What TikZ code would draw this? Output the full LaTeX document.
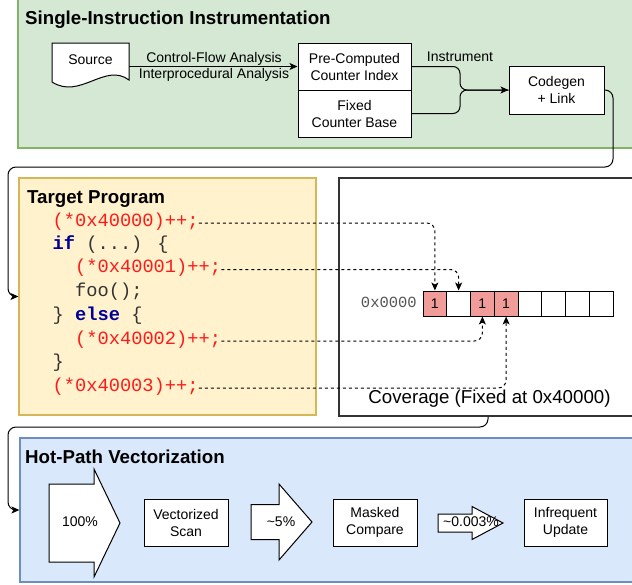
\documentclass[tikz,border=0pt]{standalone}
\usepackage{fontspec}
\setmainfont{Liberation Sans}
\newfontfamily\codefont{Liberation Mono}
\usetikzlibrary{arrows.meta}

\definecolor{grnfill}{HTML}{D5E8D4}
\definecolor{grnline}{HTML}{82B366}
\definecolor{ylwfill}{HTML}{FFF2CC}
\definecolor{ylwline}{HTML}{D6B656}
\definecolor{blufill}{HTML}{DAE8FC}
\definecolor{bluline}{HTML}{6C8EBF}
\definecolor{hitfill}{HTML}{F19C99}
\definecolor{codered}{HTML}{FF1A1A}
\definecolor{kwblue}{HTML}{000099}
\definecolor{codegray}{HTML}{333333}
\definecolor{addrgray}{HTML}{555555}
\definecolor{panelline}{HTML}{333333}

\newcommand\txtsz{\fontsize{14}{17}\selectfont}

\tikzset{
  panel/.style={draw, line width=1.2pt, inner sep=0pt},
  box/.style={draw, fill=white, line width=1pt, inner sep=0pt, align=center, font=\txtsz},
  lbl/.style={inner sep=0pt, font=\txtsz, text height=0.72em, text depth=0pt},
  ptitle/.style={anchor=base west, inner sep=0pt, font=\fontsize{18.7}{22}\selectfont\bfseries},
  codeln/.style={anchor=west, inner sep=0pt, text=codegray,
    font=\fontsize{18.7}{22}\selectfont\codefont, text height=0.78em, text depth=0.16em},
  cell/.style={draw, line width=1pt, minimum width=23.75pt, minimum height=25pt, inner sep=0pt, font=\txtsz},
  hit/.style={cell, fill=hitfill},
  conn/.style={line width=1pt, rounded corners=8pt, -{Stealth[length=8pt,width=7pt,inset=2pt]}},
  dconn/.style={conn, dash pattern=on 3pt off 3pt},
  fatarrow/.style={draw, fill=white, line width=1pt, line join=miter},
}

\begin{document}
\begin{tikzpicture}[x=1pt, y=-1pt]
\useasboundingbox (0,0) rectangle (632,584);
\clip (0,0) rectangle (632,584);
\fill[white] (0,0) rectangle (632,584);

% ---------- panels ----------
\node[panel, draw=grnline, fill=grnfill, minimum width=619pt, minimum height=150pt] (si) at (327.5,73) {};
\node[panel, draw=ylwline, fill=ylwfill, minimum width=297pt, minimum height=237pt] (tp) at (167.5,296.5) {};
\node[panel, draw=panelline, fill=white, minimum width=298pt, minimum height=238pt] (cov) at (488,297) {};
\node[panel, draw=bluline, fill=blufill, minimum width=617pt, minimum height=144pt] (hp) at (328.5,510) {};

\node[ptitle] (sititle) at (25,24.7) {Single-Instruction Instrumentation};
\node[ptitle] (tptitle) at (27,203.7) {Target Program};
\node[ptitle] (hptitle) at (25,463.7) {Hot-Path Vectorization};

% ---------- single-instruction instrumentation ----------
\draw[fill=white, line width=1pt] (52,43) -- (129,43) -- (129,80)
  .. controls (105,62) and (80,100) .. (52,82) -- cycle;
\node[minimum width=77pt, minimum height=47pt, inner sep=0pt] (src) at (90.5,66.5) {};
\node[lbl] (srctext) at (90.5,61) {Source};

\node[box, minimum width=113pt, minimum height=47pt] (pc) at (354.5,66.5) {Pre-Computed\\Counter Index};
\node[box, minimum width=113pt, minimum height=47pt] (fc) at (354.5,113.5) {Fixed\\Counter Base};
\node[box, minimum width=95pt, minimum height=48pt] (cg) at (556.5,90) {Codegen\\+ Link};

\draw[conn] (src.east) -- (pc.west);
\node[lbl] (cfa) at (214,58.5) {Control-Flow Analysis};
\node[lbl] (ipa) at (214,75) {Interprocedural Analysis};

\coordinate (mrg) at (460,90);
\draw[line width=1pt, rounded corners=7pt] (fc.east) -| (mrg) -- (cg.west);
\draw[conn, rounded corners=7pt] (pc.east) -| (mrg) -- (cg.west);
\node[lbl] (instr) at (460,57.5) {Instrument};

% ---------- target program ----------
\node[codeln] (l1) at (52.5,223) {\color{codered}(*0x40000)++;};
\node[codeln] (l2) at (52.5,246) {{\bfseries\color{kwblue}if} (...) \{};
\node[codeln] (l3) at (75,269.5) {\color{codered}(*0x40001)++;};
\node[codeln] (l4) at (75,293) {foo();};
\node[codeln] (l5) at (52.5,317) {\} {\bfseries\color{kwblue}else} \{};
\node[codeln] (l6) at (75,341) {\color{codered}(*0x40002)++;};
\node[codeln] (l7) at (52.5,364) {\}};
\node[codeln] (l8) at (52.5,388) {\color{codered}(*0x40003)++;};

% ---------- coverage array ----------
\node[hit]  (c0) at (434.875,303.5) {1};
\node[cell] (c1) at (458.625,303.5) {};
\node[hit]  (c2) at (482.375,303.5) {1};
\node[hit]  (c3) at (506.125,303.5) {1};
\node[cell] (c4) at (529.875,303.5) {};
\node[cell] (c5) at (553.625,303.5) {};
\node[cell] (c6) at (577.375,303.5) {};
\node[cell] (c7) at (601.125,303.5) {};
\node[anchor=east, inner sep=0pt, text=addrgray, font=\fontsize{15.5}{18}\selectfont\codefont,
      text height=0.62em, text depth=0pt] (base) at (417,304.5) {0x0000};
\node[lbl, font=\fontsize{18.7}{22}\selectfont] (covlbl) at (489.5,400) {Coverage (Fixed at 0x40000)};

\draw[dconn] (l1.east) -| (c0.north);
\draw[dconn] (l3.east) -| (c1.north);
\draw[dconn] (l6.east) -| (c2.south);
\draw[dconn] (l8.east) -| (c3.south);

% ---------- flow between panels ----------
\draw[conn] (cg.east) -| (613,167) -- (8,167) |- (tp.west);
\draw[conn] (cov.south) |- (8,427) |- (hp.west);

% ---------- hot-path vectorization ----------
\draw[fatarrow] (49,484) -- (94,484) -- (94,469) -- (120,523) -- (94,577) -- (94,562) -- (49,562) -- cycle;
\node[lbl] (p100) at (80,523) {100\%};
\node[box, minimum width=84pt, minimum height=47pt] (vs) at (186,522.5) {Vectorized\\Scan};
\draw[fatarrow] (251,504.5) -- (279,504.5) -- (279,484) -- (312,522) -- (279,560) -- (279,539.5) -- (251,539.5) -- cycle;
\node[lbl] (p5) at (281,522.5) {\char"007E 5\%};
\node[box, minimum width=84pt, minimum height=47pt] (mc) at (375,522.5) {Masked\\Compare};
\draw[fatarrow] (438,514) -- (472,514) -- (472,506.5) -- (503,523) -- (472,539.5) -- (472,532) -- (438,532) -- cycle;
\node[lbl] (p003) at (471,523) {\char"007E 0.003\%};
\node[box, minimum width=83pt, minimum height=47pt] (iu) at (565.5,522.5) {Infrequent\\Update};
\end{tikzpicture}
\end{document}
